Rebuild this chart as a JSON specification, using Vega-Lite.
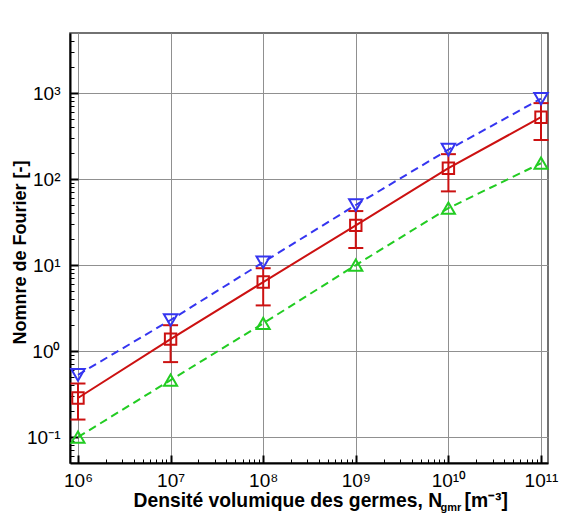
{
  "$schema": "https://vega.github.io/schema/vega-lite/v6.json",
  "width": 478,
  "height": 430,
  "autosize": {"type": "none"},
  "padding": {"left": 70, "top": 33, "right": 17, "bottom": 50},
  "background": "white",
  "config": {
    "view": {"stroke": "#444", "strokeWidth": 1.5},
    "font": "Liberation Sans"
  },
  "datasets": {
    "blue": [
      {"N": 1e6, "Fo": 0.53},
      {"N": 1e7, "Fo": 2.3},
      {"N": 1e8, "Fo": 10.8},
      {"N": 1e9, "Fo": 50},
      {"N": 1e10, "Fo": 220},
      {"N": 1e11, "Fo": 860}
    ],
    "red": [
      {"N": 1e6, "Fo": 0.285, "lo": 0.16, "hi": 0.42},
      {"N": 1e7, "Fo": 1.38, "lo": 0.745, "hi": 2.0},
      {"N": 1e8, "Fo": 6.35, "lo": 3.4, "hi": 9.2},
      {"N": 1e9, "Fo": 29, "lo": 15.8, "hi": 42.5},
      {"N": 1e10, "Fo": 134, "lo": 72, "hi": 195},
      {"N": 1e11, "Fo": 525, "lo": 285, "hi": 765}
    ],
    "green": [
      {"N": 1e6, "Fo": 0.1},
      {"N": 1e7, "Fo": 0.46},
      {"N": 1e8, "Fo": 2.1},
      {"N": 1e9, "Fo": 10},
      {"N": 1e10, "Fo": 46},
      {"N": 1e11, "Fo": 153}
    ]
  },
  "resolve": {"axis": {"x": "independent", "y": "independent"}},
  "layer": [
    {
      "data": {"name": "blue"},
      "mark": {"type": "line", "color": "#3535f0", "strokeWidth": 2, "strokeDash": [8, 5]},
      "encoding": {
        "x": {"field": "N", "type": "quantitative",
          "scale": {"type": "log", "domain": [820000, 119000000000], "nice": false},
          "axis": {
            "orient": "bottom",
            "values": [1e6, 1e7, 1e8, 1e9, 1e10, 1e11],
            "labelExpr": "'10' + (round(log(datum.value)/LN10) < 0 ? '⁻' : '') + (abs(round(log(datum.value)/LN10)) >= 10 ? '¹' : '') + ['⁰','¹','²','³','⁴','⁵','⁶','⁷','⁸','⁹'][abs(round(log(datum.value)/LN10)) % 10]",
            "labelFont": "Liberation Sans", "labelFontSize": 19, "labelColor": "black", "labelPadding": 16,
            "labelFlush": false,
            "tickSize": -8, "tickWidth": 2, "tickColor": "black",
            "domain": true, "domainColor": "black", "domainWidth": 2,
            "grid": true, "gridColor": "#909090", "gridWidth": 1,
            "title": "Densité volumique des germes, N",
            "titleFont": "Liberation Sans", "titleFontSize": 19.3, "titleFontWeight": "bold", "titleColor": "black",
            "titleAlign": "left", "titleBaseline": "alphabetic", "titleX": 63, "titleY": 43
          }
        },
        "y": {"field": "Fo", "type": "quantitative",
          "scale": {"type": "log", "domain": [0.05, 5000], "nice": false},
          "axis": {
            "orient": "left",
            "values": [0.1, 1, 10, 100, 1000],
            "labelExpr": "'10' + (round(log(datum.value)/LN10) < 0 ? '⁻' : '') + (abs(round(log(datum.value)/LN10)) >= 10 ? '¹' : '') + ['⁰','¹','²','³','⁴','⁵','⁶','⁷','⁸','⁹'][abs(round(log(datum.value)/LN10)) % 10]",
            "labelFont": "Liberation Sans", "labelFontSize": 19, "labelColor": "black", "labelPadding": 18,
            "labelFlush": false,
            "tickSize": -8, "tickWidth": 2, "tickColor": "black",
            "domain": true, "domainColor": "black", "domainWidth": 2,
            "grid": true, "gridColor": "#909090", "gridWidth": 1,
            "title": "Nomnre de Fourier [-]",
            "titleFont": "Liberation Sans", "titleFontSize": 18, "titleFontWeight": "bold", "titleColor": "black",
            "titleAngle": -90, "titleAlign": "center", "titleBaseline": "alphabetic", "titleX": -45, "titleY": 219
          }
        }
      }
    },
    {
      "data": {"name": "green"},
      "mark": {"type": "line", "color": "#22cc22", "strokeWidth": 2, "strokeDash": [8, 5]},
      "encoding": {
        "x": {"field": "N", "type": "quantitative",
          "scale": {"type": "log", "domain": [820000, 119000000000], "nice": false},
          "axis": {
            "orient": "bottom",
            "values": [2e6,3e6,4e6,5e6,6e6,7e6,8e6,9e6,2e7,3e7,4e7,5e7,6e7,7e7,8e7,9e7,2e8,3e8,4e8,5e8,6e8,7e8,8e8,9e8,2e9,3e9,4e9,5e9,6e9,7e9,8e9,9e9,2e10,3e10,4e10,5e10,6e10,7e10,8e10,9e10],
            "labels": false, "domain": false, "grid": false,
            "tickSize": -4, "tickWidth": 1, "tickColor": "black",
            "title": "gmr",
            "titleFont": "Liberation Sans", "titleFontSize": 11, "titleFontWeight": "bold", "titleColor": "black",
            "titleAlign": "left", "titleBaseline": "alphabetic", "titleX": 370, "titleY": 47
          }
        },
        "y": {"field": "Fo", "type": "quantitative",
          "scale": {"type": "log", "domain": [0.05, 5000], "nice": false},
          "axis": {
            "orient": "left",
            "values": [0.06,0.07,0.08,0.09,0.2,0.3,0.4,0.5,0.6,0.7,0.8,0.9,2,3,4,5,6,7,8,9,20,30,40,50,60,70,80,90,200,300,400,500,600,700,800,900,2000,3000,4000],
            "labels": false, "domain": false, "grid": false,
            "tickSize": -4, "tickWidth": 1, "tickColor": "black",
            "title": null
          }
        }
      }
    },
    {
      "data": {"name": "red"},
      "mark": {"type": "line", "color": "#cc1111", "strokeWidth": 2},
      "encoding": {
        "x": {"field": "N", "type": "quantitative",
          "scale": {"type": "log", "domain": [820000, 119000000000], "nice": false},
          "axis": {
            "orient": "bottom",
            "values": [],
            "labels": false, "domain": false, "grid": false, "ticks": false,
            "title": "[m⁻³]",
            "titleFont": "Liberation Sans", "titleFontSize": 19.3, "titleFontWeight": "bold", "titleColor": "black",
            "titleAlign": "left", "titleBaseline": "alphabetic", "titleX": 394, "titleY": 43
          }
        },
        "y": {"field": "Fo", "type": "quantitative",
          "scale": {"type": "log", "domain": [0.05, 5000], "nice": false},
          "axis": null
        }
      }
    },
    {
      "data": {"name": "red"},
      "mark": {"type": "rule", "color": "#cc1111", "strokeWidth": 2},
      "encoding": {
        "x": {"field": "N", "type": "quantitative", "scale": {"type": "log", "domain": [820000, 119000000000], "nice": false}, "axis": null},
        "y": {"field": "lo", "type": "quantitative", "scale": {"type": "log", "domain": [0.05, 5000], "nice": false}, "axis": null},
        "y2": {"field": "hi"}
      }
    },
    {
      "data": {"name": "red"},
      "mark": {"type": "tick", "color": "#cc1111", "orient": "horizontal", "size": 15, "thickness": 2, "opacity": 1},
      "encoding": {
        "x": {"field": "N", "type": "quantitative", "scale": {"type": "log", "domain": [820000, 119000000000], "nice": false}, "axis": null},
        "y": {"field": "lo", "type": "quantitative", "scale": {"type": "log", "domain": [0.05, 5000], "nice": false}, "axis": null}
      }
    },
    {
      "data": {"name": "red"},
      "mark": {"type": "tick", "color": "#cc1111", "orient": "horizontal", "size": 15, "thickness": 2, "opacity": 1},
      "encoding": {
        "x": {"field": "N", "type": "quantitative", "scale": {"type": "log", "domain": [820000, 119000000000], "nice": false}, "axis": null},
        "y": {"field": "hi", "type": "quantitative", "scale": {"type": "log", "domain": [0.05, 5000], "nice": false}, "axis": null}
      }
    },
    {
      "data": {"name": "red"},
      "mark": {"type": "point", "shape": "square", "filled": false, "color": "#cc1111", "strokeWidth": 2, "size": 130, "opacity": 1},
      "encoding": {
        "x": {"field": "N", "type": "quantitative", "scale": {"type": "log", "domain": [820000, 119000000000], "nice": false}, "axis": null},
        "y": {"field": "Fo", "type": "quantitative", "scale": {"type": "log", "domain": [0.05, 5000], "nice": false}, "axis": null}
      }
    },
    {
      "data": {"name": "blue"},
      "mark": {"type": "point", "shape": "triangle-down", "filled": false, "color": "#3535f0", "strokeWidth": 2, "size": 180, "opacity": 1},
      "encoding": {
        "x": {"field": "N", "type": "quantitative", "scale": {"type": "log", "domain": [820000, 119000000000], "nice": false}, "axis": null},
        "y": {"field": "Fo", "type": "quantitative", "scale": {"type": "log", "domain": [0.05, 5000], "nice": false}, "axis": null}
      }
    },
    {
      "data": {"name": "green"},
      "mark": {"type": "point", "shape": "triangle-up", "filled": false, "color": "#22cc22", "strokeWidth": 2, "size": 170, "opacity": 1},
      "encoding": {
        "x": {"field": "N", "type": "quantitative", "scale": {"type": "log", "domain": [820000, 119000000000], "nice": false}, "axis": null},
        "y": {"field": "Fo", "type": "quantitative", "scale": {"type": "log", "domain": [0.05, 5000], "nice": false}, "axis": null}
      }
    }
  ]
}
